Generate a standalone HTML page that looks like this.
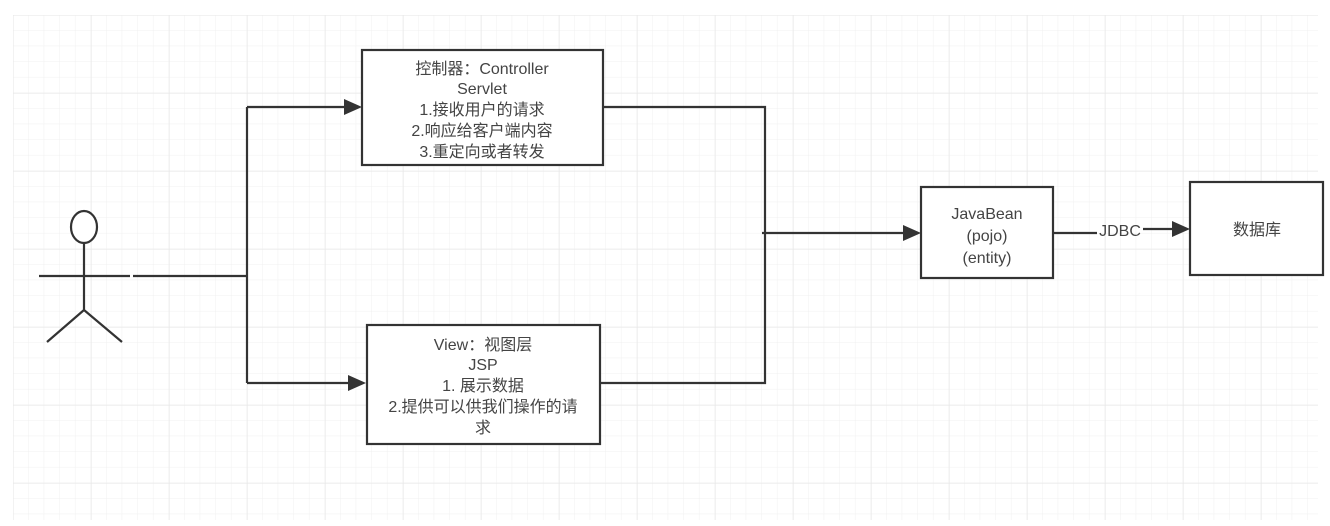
<!DOCTYPE html>
<html><head><meta charset="utf-8"><style>
html,body{margin:0;padding:0;background:#fff;}
svg{display:block;}
text{font-family:"Liberation Sans","Noto Sans CJK SC",sans-serif;font-size:16px;fill:#444;text-anchor:middle;}
</style></head><body>
<svg width="1330" height="526" viewBox="0 0 1330 526">
<defs>
<pattern id="minor" x="13" y="15" width="15.6" height="15.6" patternUnits="userSpaceOnUse">
<path d="M15.6 0V15.6M0 15.6H15.6" fill="none" stroke="#f0f0f0" stroke-width="1"/>
</pattern>
<pattern id="major" x="13" y="15" width="78" height="78" patternUnits="userSpaceOnUse">
<path d="M0 0V78M0 0H78" fill="none" stroke="#e6e6e6" stroke-width="1"/>
</pattern>
</defs>
<rect x="13" y="15" width="1305" height="505" fill="url(#minor)"/>
<rect x="13" y="15" width="1305" height="505" fill="url(#major)"/>
<g stroke="#333" stroke-width="2.2" fill="none">
<ellipse cx="84" cy="227" rx="13" ry="16" fill="#fff"/>
<path d="M84 243V310M39 276H130M133 276H247M84 310L47 342M84 310L122 342"/>
<path d="M247 107V383M247 107H345M247 383H349"/>
<path d="M603 107H765V233M600 383H765V233M762 233H903"/>
<path d="M1053 233H1097M1143 229H1172"/>
</g>
<g fill="#333">
<polygon points="362,107 344,99 344,115"/>
<polygon points="366,383 348,375 348,391"/>
<polygon points="921,233 903,225 903,241"/>
<polygon points="1190,229 1172,221 1172,237"/>
</g>
<g stroke="#333" stroke-width="2.2" fill="#fff">
<rect x="362" y="50" width="241" height="115"/>
<rect x="367" y="325" width="233" height="119"/>
<rect x="921" y="187" width="132" height="91"/>
<rect x="1190" y="182" width="133" height="93"/>
</g>
<text x="482" y="74">控制器：Controller</text>
<text x="482" y="94">Servlet</text>
<text x="482" y="115">1.接收用户的请求</text>
<text x="482" y="136">2.响应给客户端内容</text>
<text x="482" y="157">3.重定向或者转发</text>
<text x="483" y="350">View：视图层</text>
<text x="483" y="370">JSP</text>
<text x="483" y="391">1. 展示数据</text>
<text x="483" y="412">2.提供可以供我们操作的请</text>
<text x="483" y="433">求</text>
<text x="987" y="219">JavaBean</text>
<text x="987" y="241">(pojo)</text>
<text x="987" y="263">(entity)</text>
<text x="1120" y="236">JDBC</text>
<text x="1257" y="235">数据库</text>
</svg>
</body></html>
